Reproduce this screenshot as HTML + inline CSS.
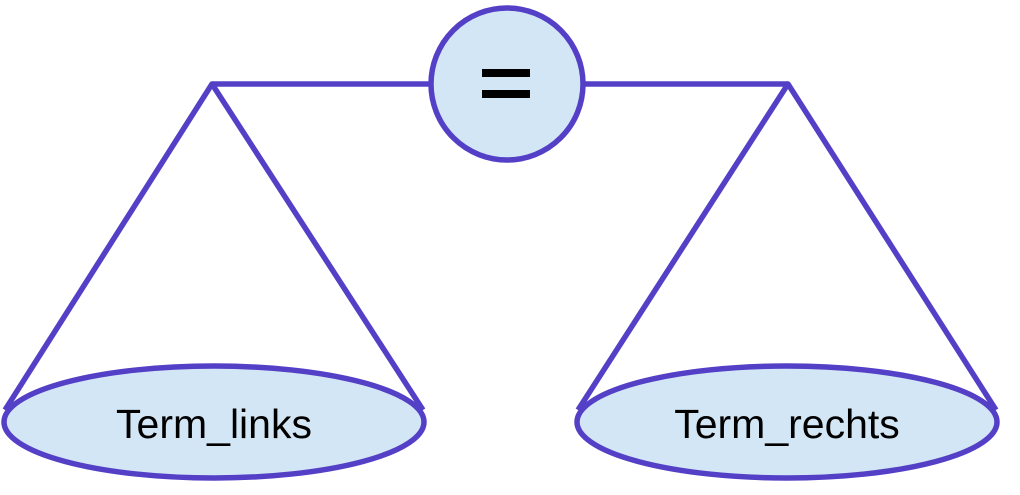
<!DOCTYPE html>
<html><head><style>html,body{margin:0;padding:0;background:#fff;}</style></head>
<body>
<svg width="1020" height="490" viewBox="0 0 1020 490" xmlns="http://www.w3.org/2000/svg">
<g stroke="#5440c6" stroke-width="5.5" fill="none" stroke-linejoin="round">
<line x1="212" y1="84" x2="788" y2="84"/>
<polyline points="5,410 212,84 423,410"/>
<polyline points="578,410 788,84 996,410"/>
</g>
<g stroke="#5440c6" stroke-width="5.5" fill="#d3e6f5">
<circle cx="507" cy="84" r="76"/>
<ellipse cx="214" cy="422" rx="210" ry="56"/>
<ellipse cx="787" cy="422" rx="210" ry="56"/>
</g>
<rect x="482" y="69" width="48" height="8" fill="#000"/>
<rect x="482" y="90" width="48" height="8" fill="#000"/>
<g font-family="Liberation Sans, sans-serif" font-size="41" fill="#000" text-anchor="middle">
<text x="214" y="438">Term_links</text>
<text x="787" y="438">Term_rechts</text>
</g>
</svg>
</body></html>
